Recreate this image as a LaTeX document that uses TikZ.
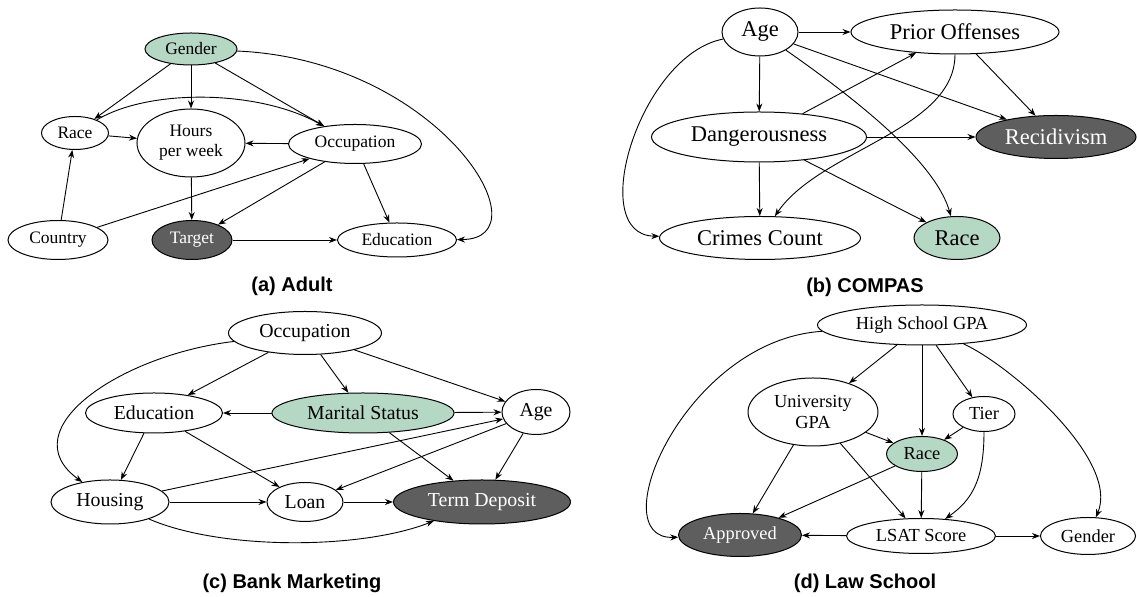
\documentclass[tikz,border=0pt]{standalone}
\usepackage{fontspec}
\setmainfont{Liberation Serif}
\setsansfont{Liberation Sans}
\newfontfamily\varfont{Liberation Serif}
\usetikzlibrary{arrows.meta,shapes.geometric}
\definecolor{sensgreen}{RGB}{181,216,196}
\definecolor{outgray}{RGB}{94,94,94}

\begin{document}
\begin{tikzpicture}[x=0.5pt, y=-0.5pt,
    var/.style={ellipse, draw, line width=0.5pt, inner sep=0pt},
    sens/.style={var, fill=sensgreen},
    outc/.style={var, fill=outgray, text=white},
    arr/.style={-{Stealth[length=4pt, width=3pt]}, line width=0.45pt},
    subcap/.style={font=\sffamily\bfseries\fontsize{10}{12}\selectfont}]

    \useasboundingbox (0,0) rectangle (1137,597);

    % (a) adult
    \begin{scope}[every node/.append style={font=\varfont\fontsize{8.75}{10}\selectfont}]
        \node[sens, minimum width=46pt, minimum height=16pt] (a-gender) at (191,49) {Gender};
        \node[var, minimum width=33.5pt, minimum height=16.5pt] (a-race) at (75,133) {Race};
        \node[var, minimum width=54pt, minimum height=34pt, align=center] (a-hours) at (191,143) {Hours\\per week};
        \node[var, minimum width=66.5pt, minimum height=19.5pt] (a-occ) at (355,144) {Occupation};
        \node[var, minimum width=50pt, minimum height=19.5pt] (a-country) at (58,240) {Country};
        \node[outc, minimum width=40pt, minimum height=19.5pt] (a-target) at (192,240) {Target};
        \node[var, minimum width=59.5pt, minimum height=17pt] (a-edu) at (397,240) {Education};
    \end{scope}
    \draw[arr] (a-gender) -- (a-race);
    \draw[arr] (a-gender) -- (a-hours);
    \draw[arr] (a-gender) -- (a-occ);
    \draw[arr] (a-gender) .. controls (440,60) and (548,239) .. (a-edu);
    \draw[arr] (a-race) .. controls (150,88) and (260,90) .. (a-occ);
    \draw[arr] (a-race) -- (a-hours);
    \draw[arr] (a-occ) -- (a-hours);
    \draw[arr] (a-occ) -- (a-target);
    \draw[arr] (a-occ) -- (a-edu);
    \draw[arr] (a-country) -- (a-race);
    \draw[arr] (a-country) -- (a-occ);
    \draw[arr] (a-hours) -- (a-target);
    \draw[arr] (a-target) -- (a-edu);
    \node[subcap] (a-cap) at (292,286) {(a) Adult};

    % (b) compas
    \begin{scope}[every node/.append style={font=\varfont\fontsize{11.25}{13}\selectfont}]
        \node[var, minimum width=38pt, minimum height=24pt] (b-age) at (760,32) {Age};
        \node[var, minimum width=104pt, minimum height=22pt] (b-prior) at (955,32) {Prior Offenses};
        \node[var, minimum width=107.5pt, minimum height=25pt] (b-danger) at (759,137) {Dangerousness};
        \node[outc, minimum width=80pt, minimum height=21.5pt] (b-recid) at (1056,137) {Recidivism};
        \node[var, minimum width=100.5pt, minimum height=21.5pt] (b-crimes) at (760,238) {Crimes Count};
        \node[sens, minimum width=43pt, minimum height=21.5pt] (b-race) at (957,238) {Race};
    \end{scope}
    \draw[arr] (b-age) -- (b-prior);
    \draw[arr] (b-age) -- (b-danger);
    \draw[arr] (b-age) -- (b-recid);
    \draw[arr] (b-age) .. controls (850,95) and (935,160) .. (b-race);
    \draw[arr] (b-age) .. controls (640,55) and (585,235) .. (b-crimes);
    \draw[arr] (b-danger) -- (b-prior);
    \draw[arr] (b-danger) -- (b-recid);
    \draw[arr] (b-danger) -- (b-crimes);
    \draw[arr] (b-danger) -- (b-race);
    \draw[arr] (b-prior) -- (b-recid);
    \draw[arr] (b-prior) .. controls (955,130) and (820,150) .. (b-crimes);
    \node[subcap] (b-cap) at (865,287) {(b) COMPAS};

    % (c) bank marketing
    \begin{scope}[every node/.append style={font=\varfont\fontsize{9.9}{12}\selectfont}]
        \node[var, minimum width=76.5pt, minimum height=21.5pt] (c-occ) at (305,333) {Occupation};
        \node[var, minimum width=68.5pt, minimum height=20pt] (c-edu) at (154,413) {Education};
        \node[sens, minimum width=91pt, minimum height=20pt] (c-marital) at (363,413) {Marital Status};
        \node[var, minimum width=34pt, minimum height=22.5pt] (c-age) at (536,412) {Age};
        \node[var, minimum width=59pt, minimum height=22pt] (c-housing) at (110,502) {Housing};
        \node[var, minimum width=38pt, minimum height=19.5pt] (c-loan) at (305,502) {Loan};
        \node[outc, minimum width=88.5pt, minimum height=22pt] (c-term) at (482,502) {Term Deposit};
    \end{scope}
    \draw[arr] (c-occ) -- (c-edu);
    \draw[arr] (c-occ) -- (c-marital);
    \draw[arr] (c-occ) -- (c-age);
    \draw[arr] (c-occ) .. controls (120,355) and (10,430) .. (c-housing);
    \draw[arr] (c-marital) -- (c-edu);
    \draw[arr] (c-marital) -- (c-age);
    \draw[arr] (c-marital) -- (c-term);
    \draw[arr] (c-edu) -- (c-housing);
    \draw[arr] (c-edu) -- (c-loan);
    \draw[arr] (c-housing) -- (c-age);
    \draw[arr] (c-housing) -- (c-loan);
    \draw[arr] (c-housing) .. controls (220,550) and (360,550) .. (c-term);
    \draw[arr] (c-age) -- (c-loan);
    \draw[arr] (c-age) -- (c-term);
    \draw[arr] (c-loan) -- (c-term);
    \node[subcap] (c-cap) at (292,583) {(c) Bank Marketing};

    % (d) law school
    \begin{scope}[every node/.append style={font=\varfont\fontsize{9.2}{10.8}\selectfont}]
        \node[var, minimum width=104.5pt, minimum height=20pt] (d-hs) at (922,325) {High School GPA};
        \node[var, minimum width=65pt, minimum height=34pt, align=center] (d-ugpa) at (813,412) {University\\GPA};
        \node[var, minimum width=31pt, minimum height=17.5pt] (d-tier) at (984,414) {Tier};
        \node[sens, minimum width=35.5pt, minimum height=17.5pt] (d-race) at (922,454) {Race};
        \node[outc, minimum width=61.5pt, minimum height=21.5pt] (d-approved) at (740,535) {Approved};
        \node[var, minimum width=74.5pt, minimum height=17.5pt] (d-lsat) at (921,536) {LSAT Score};
        \node[var, minimum width=47.5pt, minimum height=18.5pt] (d-gender) at (1088,536) {Gender};
    \end{scope}
    \draw[arr] (d-hs) -- (d-ugpa);
    \draw[arr] (d-hs) -- (d-race);
    \draw[arr] (d-hs) -- (d-tier);
    \draw[arr] (d-hs) .. controls (1010,365) and (1120,460) .. (d-gender);
    \draw[arr] (d-hs) .. controls (685,340) and (600,540) .. (d-approved);
    \draw[arr] (d-ugpa) -- (d-race);
    \draw[arr] (d-ugpa) -- (d-approved);
    \draw[arr] (d-ugpa) -- (d-lsat);
    \draw[arr] (d-tier) -- (d-race);
    \draw[arr] (d-tier) .. controls (984,480) and (972,500) .. (d-lsat);
    \draw[arr] (d-race) -- (d-approved);
    \draw[arr] (d-race) -- (d-lsat);
    \draw[arr] (d-lsat) -- (d-approved);
    \draw[arr] (d-lsat) -- (d-gender);
    \node[subcap] (d-cap) at (865,583) {(d) Law School};

\end{tikzpicture}
\end{document}
